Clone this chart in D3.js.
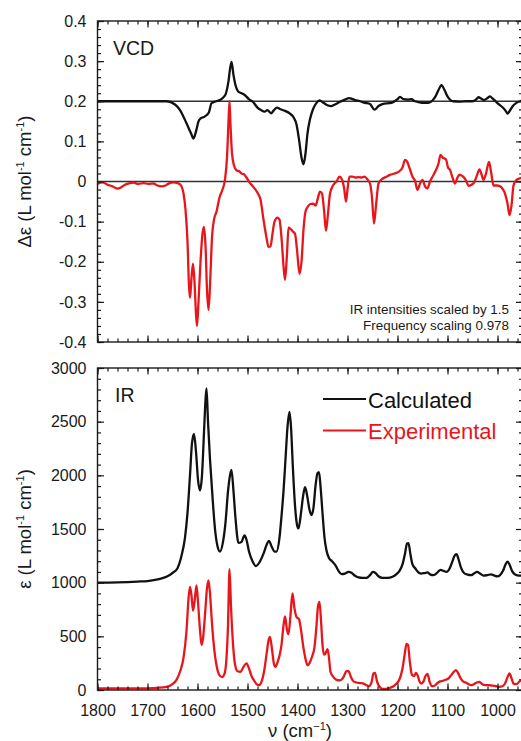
<!DOCTYPE html>
<html>
<head>
<meta charset="utf-8">
<script src="https://cdn.jsdelivr.net/npm/d3@7"></script>
<style>
  body { margin: 0; background: #fff; }
  svg { display: block; font-family: "Liberation Sans", Arial, sans-serif; }
</style>
</head>
<body>
<svg id="chart" width="521" height="741"></svg>
<script>
// ---- Spectra: [wavenumber (cm^-1), value] ----

// Calculated VCD, Δε (plotted with a +0.2 offset)
const vcdCalculated = [
  [1800, 0], [1700, 0], [1662, 0], [1645, -0.008], [1635, -0.022], [1622, -0.055],
  [1613, -0.08], [1608, -0.093], [1603, -0.075], [1598, -0.05], [1593, -0.042],
  [1587, -0.039], [1582, -0.035], [1577, -0.027], [1572, -0.005], [1563, 0],
  [1555, 0.003], [1548, 0.01], [1543, 0.02], [1538, 0.05], [1535, 0.08], [1532, 0.098],
  [1528, 0.065], [1524, 0.04], [1519, 0.025], [1512, 0.02], [1505, 0.015],
  [1497, 0.005], [1488, -0.003], [1480, -0.016], [1473, -0.022], [1466, -0.026],
  [1460, -0.022], [1453, -0.03], [1447, -0.022], [1441, -0.016], [1434, -0.02],
  [1425, -0.024], [1415, -0.031], [1408, -0.04], [1402, -0.058], [1397, -0.095],
  [1392, -0.14], [1388, -0.157], [1384, -0.13], [1380, -0.08], [1375, -0.045],
  [1369, -0.02], [1362, -0.004], [1356, 0.002], [1348, -0.004], [1340, -0.01],
  [1333, -0.012], [1325, -0.008], [1316, -0.002], [1305, 0.004], [1297, 0.008],
  [1285, 0.003], [1275, 0], [1265, -0.004], [1255, -0.007], [1246, -0.021],
  [1238, -0.012], [1230, -0.007], [1212, -0.004], [1200, 0.005], [1195, 0.011],
  [1188, 0.005], [1180, 0.004], [1172, 0.005], [1165, 0], [1158, -0.002],
  [1148, -0.004], [1138, -0.004], [1130, 0.002], [1124, 0.012], [1118, 0.028],
  [1112, 0.04], [1106, 0.028], [1100, 0.012], [1094, 0.003], [1088, 0],
  [1075, -0.001], [1062, 0], [1050, 0], [1043, 0.004], [1038, 0.01], [1032, 0.006],
  [1027, 0.003], [1020, 0.008], [1015, 0.012], [1010, 0.007], [1004, 0],
  [997, -0.008], [990, -0.015], [983, -0.025], [980, -0.031], [976, -0.025],
  [970, -0.013], [962, -0.004], [955, 0], [950, 0.001]
];

// Experimental VCD, Δε
const vcdExperimental = [
  [1800, -0.006], [1790, -0.002], [1780, -0.008], [1770, -0.012], [1760, -0.018],
  [1752, -0.014], [1745, -0.008], [1735, -0.004], [1728, -0.003], [1718, -0.006],
  [1708, -0.004], [1698, -0.006], [1688, -0.005], [1680, -0.01], [1672, -0.012],
  [1664, -0.01], [1656, -0.004], [1648, -0.002], [1640, -0.004], [1634, -0.008],
  [1628, -0.03], [1624, -0.07], [1620, -0.15], [1617, -0.26], [1615, -0.29],
  [1612, -0.24], [1609, -0.205], [1606, -0.25], [1603, -0.33], [1601, -0.36],
  [1598, -0.3], [1594, -0.2], [1590, -0.13], [1587, -0.113], [1584, -0.16],
  [1581, -0.27], [1578, -0.32], [1575, -0.26], [1571, -0.14], [1567, -0.095],
  [1562, -0.075], [1556, -0.04], [1550, -0.02], [1545, 0.005], [1541, 0.06],
  [1538, 0.15], [1536, 0.2], [1534, 0.14], [1531, 0.07], [1527, 0.04],
  [1522, 0.028], [1516, 0.025], [1512, 0.02], [1507, 0.018], [1502, 0.01],
  [1496, -0.002], [1488, -0.014], [1480, -0.028], [1474, -0.045], [1468, -0.095],
  [1462, -0.14], [1458, -0.163], [1454, -0.162], [1450, -0.13], [1446, -0.1],
  [1440, -0.09], [1436, -0.095], [1432, -0.14], [1428, -0.21], [1425, -0.245],
  [1421, -0.18], [1418, -0.115], [1414, -0.118], [1409, -0.125], [1405, -0.13],
  [1401, -0.17], [1396, -0.23], [1392, -0.2], [1388, -0.12], [1384, -0.075],
  [1379, -0.062], [1374, -0.056], [1369, -0.055], [1364, -0.06], [1359, -0.04],
  [1355, -0.025], [1351, -0.03], [1347, -0.07], [1343, -0.123], [1339, -0.08],
  [1335, -0.03], [1329, -0.01], [1322, 0], [1316, 0.012], [1311, 0.005],
  [1307, -0.015], [1303, -0.05], [1300, -0.02], [1296, 0.012], [1290, 0.012],
  [1284, 0.01], [1278, 0.011], [1272, 0.01], [1266, 0.012], [1260, 0.005],
  [1255, -0.005], [1251, -0.04], [1247, -0.105], [1243, -0.06], [1238, -0.005],
  [1232, 0.005], [1222, 0.012], [1214, 0.017], [1206, 0.02], [1198, 0.024],
  [1190, 0.035], [1185, 0.054], [1181, 0.05], [1175, 0.03], [1170, 0.012],
  [1165, 0.002], [1160, -0.021], [1155, -0.005], [1150, 0.004], [1145, -0.012],
  [1140, -0.017], [1135, 0], [1130, 0.012], [1124, 0.026], [1118, 0.045],
  [1114, 0.066], [1110, 0.06], [1103, 0.055], [1099, 0.035], [1095, 0.029],
  [1090, 0.01], [1085, -0.005], [1080, 0.01], [1076, 0.017], [1072, 0.015],
  [1067, 0.01], [1062, 0], [1058, -0.011], [1052, -0.008], [1047, -0.003],
  [1042, 0.012], [1036, 0.03], [1032, 0.018], [1028, 0.004], [1023, 0.02],
  [1017, 0.049], [1013, 0.025], [1008, -0.01], [1001, -0.01], [995, -0.012],
  [990, -0.018], [985, -0.03], [980, -0.055], [976, -0.084], [972, -0.06],
  [968, -0.01], [962, 0.004], [955, 0.008], [950, 0.01]
];

// Calculated IR, ε (plotted with a +1000 offset)
const irCalculated = [
  [1800, 0], [1760, 3], [1720, 10], [1700, 15], [1682, 28], [1670, 42], [1660, 60],
  [1650, 90], [1640, 135], [1632, 250], [1625, 420], [1620, 650], [1615, 1000],
  [1611, 1300], [1607, 1385], [1603, 1220], [1599, 960], [1595, 860], [1591, 1000],
  [1587, 1400], [1584, 1700], [1582, 1810], [1579, 1500], [1575, 1150], [1570, 800],
  [1565, 500], [1560, 340], [1555, 290], [1549, 380], [1544, 560], [1539, 850],
  [1535, 1000], [1532, 1050], [1528, 850], [1524, 600], [1518, 370], [1512, 380],
  [1506, 440], [1502, 400], [1497, 290], [1490, 200], [1483, 155], [1476, 190],
  [1468, 270], [1462, 350], [1457, 390], [1452, 340], [1446, 290], [1442, 290],
  [1436, 420], [1432, 620], [1428, 850], [1424, 1150], [1420, 1450], [1416, 1590],
  [1413, 1450], [1409, 1050], [1405, 720], [1401, 540], [1398, 505], [1393, 650],
  [1389, 800], [1385, 890], [1381, 820], [1376, 680], [1372, 630], [1368, 700],
  [1364, 900], [1360, 1020], [1357, 1030], [1354, 900], [1350, 650], [1346, 420],
  [1342, 300], [1337, 230], [1331, 200], [1324, 160], [1318, 110], [1312, 80],
  [1305, 85], [1298, 100], [1292, 92], [1285, 65], [1278, 50], [1270, 45],
  [1262, 45], [1255, 70], [1249, 100], [1244, 90], [1238, 60], [1230, 45],
  [1220, 45], [1210, 55], [1202, 80], [1196, 110], [1190, 170], [1185, 270],
  [1181, 365], [1178, 368], [1174, 260], [1170, 170], [1164, 130], [1158, 95],
  [1152, 85], [1146, 90], [1140, 95], [1134, 75], [1128, 70], [1120, 95],
  [1114, 120], [1108, 110], [1102, 100], [1096, 130], [1090, 200], [1086, 250],
  [1082, 265], [1078, 220], [1073, 140], [1067, 90], [1060, 75], [1053, 70],
  [1047, 85], [1041, 100], [1035, 85], [1028, 65], [1020, 70], [1013, 78],
  [1006, 65], [1000, 58], [995, 70], [989, 110], [984, 170], [980, 195],
  [976, 170], [971, 110], [966, 80], [960, 68], [955, 65], [950, 65]
];

// Experimental IR, ε
const irExperimental = [
  [1800, 15], [1760, 15], [1720, 15], [1700, 16], [1680, 20], [1662, 30],
  [1650, 55], [1642, 95], [1635, 170], [1628, 300], [1622, 550], [1618, 850],
  [1615, 960], [1612, 880], [1609, 740], [1606, 820], [1602, 975], [1599, 820],
  [1595, 560], [1592, 420], [1589, 480], [1585, 700], [1581, 950], [1578, 1020],
  [1575, 900], [1571, 620], [1567, 400], [1562, 230], [1557, 145], [1551, 120],
  [1546, 150], [1542, 300], [1539, 600], [1536, 1125], [1533, 780], [1529, 430],
  [1525, 240], [1520, 175], [1514, 170], [1508, 215], [1502, 248], [1497, 200],
  [1492, 130], [1487, 90], [1482, 55], [1477, 45], [1471, 90], [1467, 170],
  [1462, 330], [1458, 460], [1455, 495], [1451, 380], [1447, 240], [1444, 215],
  [1440, 260], [1436, 320], [1432, 420], [1428, 600], [1425, 685], [1421, 560],
  [1418, 520], [1414, 700], [1410, 900], [1406, 760], [1402, 680], [1397, 660],
  [1393, 560], [1388, 390], [1384, 290], [1380, 230], [1376, 250], [1371, 310],
  [1366, 400], [1362, 600], [1359, 780], [1356, 820], [1353, 650], [1350, 420],
  [1347, 330], [1344, 340], [1340, 380], [1337, 300], [1334, 170], [1328, 120],
  [1322, 95], [1315, 90], [1308, 120], [1302, 175], [1298, 175], [1293, 120],
  [1288, 80], [1282, 70], [1275, 65], [1268, 60], [1262, 45], [1257, 35],
  [1252, 70], [1248, 155], [1245, 160], [1241, 80], [1236, 30], [1230, 10],
  [1222, 10], [1215, 20], [1208, 35], [1202, 60], [1196, 100], [1190, 200],
  [1186, 320], [1182, 430], [1179, 420], [1175, 250], [1171, 140], [1167, 130],
  [1163, 160], [1160, 140], [1156, 80], [1152, 60], [1148, 80], [1144, 130],
  [1140, 150], [1136, 80], [1131, 35], [1126, 40], [1120, 65], [1115, 80],
  [1110, 85], [1104, 95], [1099, 105], [1094, 130], [1088, 165], [1083, 185],
  [1079, 160], [1074, 110], [1069, 80], [1064, 70], [1058, 55], [1053, 45],
  [1047, 55], [1041, 70], [1036, 75], [1031, 55], [1025, 45], [1018, 45],
  [1010, 40], [1003, 35], [997, 30], [990, 35], [985, 60], [980, 120],
  [976, 155], [972, 110], [968, 60], [962, 55], [956, 80], [950, 95]
];

// Offsets applied to the calculated traces
const vcdOffset = 0.2;
const irOffset = 1000;

// Axis ticks
const xMajorTicks = [1800, 1700, 1600, 1500, 1400, 1300, 1200, 1100, 1000];
const vcdTicks = [0.4, 0.3, 0.2, 0.1, 0, -0.1, -0.2, -0.3, -0.4];
const irTicks = [3000, 2500, 2000, 1500, 1000, 500, 0];

const seriesNames = ["Calculated", "Experimental"];
const notes = ["IR intensities scaled by 1.5", "Frequency scaling 0.978"];

// ---- Layout ----
const RED = "#e8161b";
const INK = "#1a1a1a";
const svg = d3.select("#chart");

const x = d3.scaleLinear().domain([1800, 950]).range([97.5, 522.5]);
const yVcd = d3.scaleLinear().domain([-0.4, 0.4]).range([342, 21]);
const yIr = d3.scaleLinear().domain([0, 3000]).range([690, 368]);

const fmtVcd = v => v === 0 ? "0" : v.toFixed(1);

function panel(id, y, majors, minorStep, fmt, curves, baselines, xLabels) {
  const [y0, y1] = y.range();
  const top = y1, bottom = y0;
  const g = svg.append("g");

  g.append("clipPath").attr("id", id)
    .append("rect").attr("x", x.range()[0]).attr("y", top)
    .attr("width", x.range()[1] - x.range()[0]).attr("height", bottom - top);

  // horizontal reference lines
  baselines.forEach(b => {
    g.append("line")
      .attr("x1", x.range()[0]).attr("x2", x.range()[1])
      .attr("y1", y(b)).attr("y2", y(b))
      .attr("stroke", "#333").attr("stroke-width", 1.3);
  });

  const line = d3.line()
    .x(d => x(d[0]))
    .y(d => y(d[1]))
    .curve(d3.curveMonotoneX);

  curves.forEach(c => {
    g.append("path")
      .datum(c.data.map(d => [d[0], d[1] + c.offset]))
      .attr("clip-path", `url(#${id})`)
      .attr("fill", "none")
      .attr("stroke", c.color)
      .attr("stroke-width", 2.3)
      .attr("stroke-linejoin", "round")
      .attr("d", line);
  });

  // frame
  g.append("rect")
    .attr("x", x.range()[0]).attr("y", top)
    .attr("width", x.range()[1] - x.range()[0]).attr("height", bottom - top)
    .attr("fill", "none").attr("stroke", INK).attr("stroke-width", 1.4);

  const xMinor = d3.range(1800, 949, -20);
  const [ymin, ymax] = y.domain();
  const yMinor = d3.range(Math.round(ymin / minorStep), Math.round(ymax / minorStep) + 1)
    .map(k => +(k * minorStep).toFixed(6));

  const tickStyle = sel => {
    sel.select(".domain").remove();
    sel.selectAll(".tick line").attr("stroke", INK).attr("stroke-width", 1.2);
  };

  // inward ticks on all four sides
  g.append("g").attr("transform", `translate(0,${bottom})`)
    .call(d3.axisBottom(x).tickValues(xMinor).tickSize(-3.5).tickFormat(""))
    .call(tickStyle);
  g.append("g").attr("transform", `translate(0,${bottom})`)
    .call(d3.axisBottom(x).tickValues(xMajorTicks).tickSize(-6.5).tickPadding(15)
      .tickFormat(xLabels ? d3.format("d") : ""))
    .call(tickStyle);
  g.append("g").attr("transform", `translate(0,${top})`)
    .call(d3.axisTop(x).tickValues(xMinor).tickSize(-3.5).tickFormat(""))
    .call(tickStyle);
  g.append("g").attr("transform", `translate(0,${top})`)
    .call(d3.axisTop(x).tickValues(xMajorTicks).tickSize(-6.5).tickFormat(""))
    .call(tickStyle);

  g.append("g").attr("transform", `translate(${x.range()[0]},0)`)
    .call(d3.axisLeft(y).tickValues(yMinor).tickSize(-3.5).tickFormat(""))
    .call(tickStyle);
  g.append("g").attr("transform", `translate(${x.range()[0]},0)`)
    .call(d3.axisLeft(y).tickValues(majors).tickSize(-6.5).tickPadding(11).tickFormat(fmt))
    .call(tickStyle);
  g.append("g").attr("transform", `translate(${x.range()[1]},0)`)
    .call(d3.axisRight(y).tickValues(yMinor).tickSize(-3.5).tickFormat(""))
    .call(tickStyle);
  g.append("g").attr("transform", `translate(${x.range()[1]},0)`)
    .call(d3.axisRight(y).tickValues(majors).tickSize(-6.5).tickFormat(""))
    .call(tickStyle);

  g.selectAll(".tick text")
    .attr("font-family", "Liberation Sans, Arial, sans-serif")
    .attr("font-size", 16).attr("fill", INK);
  return g;
}

// Upper panel: VCD
panel("clipVcd", yVcd, vcdTicks, 0.02, fmtVcd, [
  { data: vcdCalculated, offset: vcdOffset, color: "#111" },
  { data: vcdExperimental, offset: 0, color: RED }
], [vcdOffset, 0], false);

// Lower panel: IR
panel("clipIr", yIr, irTicks, 100, d3.format("d"), [
  { data: irCalculated, offset: irOffset, color: "#111" },
  { data: irExperimental, offset: 0, color: RED }
], [], true);

// ---- Text ----
const T = svg.append("g").attr("fill", INK);

T.append("text").attr("x", 113).attr("y", 55).attr("font-size", 19.5).text("VCD");
T.append("text").attr("x", 115).attr("y", 402).attr("font-size", 19.5).text("IR");

notes.forEach((s, i) => {
  T.append("text").attr("x", 509).attr("y", 314 + i * 15.5)
    .attr("text-anchor", "end").attr("font-size", 13.4).text(s);
});

// legend
const legendY = [399, 430.5];
seriesNames.forEach((name, i) => {
  const color = i === 0 ? "#111" : RED;
  svg.append("line").attr("x1", 323).attr("x2", 366)
    .attr("y1", legendY[i]).attr("y2", legendY[i])
    .attr("stroke", color).attr("stroke-width", 2);
  svg.append("text").attr("x", 368).attr("y", legendY[i] + 8.5)
    .attr("font-size", 22).attr("fill", color).text(name);
});

// axis titles with superscripts
function unitTitle(sel, lead) {
  sel.append("tspan").text(lead + " (L mol");
  sel.append("tspan").attr("font-size", 11).attr("dy", -7).text("-1");
  sel.append("tspan").attr("dy", 7).text(" cm");
  sel.append("tspan").attr("font-size", 11).attr("dy", -7).text("-1");
  sel.append("tspan").attr("dy", 7).text(")");
}
const tV = T.append("text").attr("font-size", 18.5).attr("text-anchor", "middle")
  .attr("transform", `translate(31,${(yVcd.range()[0] + yVcd.range()[1]) / 2}) rotate(-90)`);
unitTitle(tV, "Δε");
const tI = T.append("text").attr("font-size", 18.5).attr("text-anchor", "middle")
  .attr("transform", `translate(31,${(yIr.range()[0] + yIr.range()[1]) / 2}) rotate(-90)`);
unitTitle(tI, "ε");

const tX = T.append("text").attr("font-size", 18.5).attr("text-anchor", "middle")
  .attr("x", 300).attr("y", 737);
tX.append("tspan").text("ν (cm");
tX.append("tspan").attr("font-size", 11).attr("dy", -7).text("−1");
tX.append("tspan").attr("dy", 7).text(")");
</script>
</body>
</html>
